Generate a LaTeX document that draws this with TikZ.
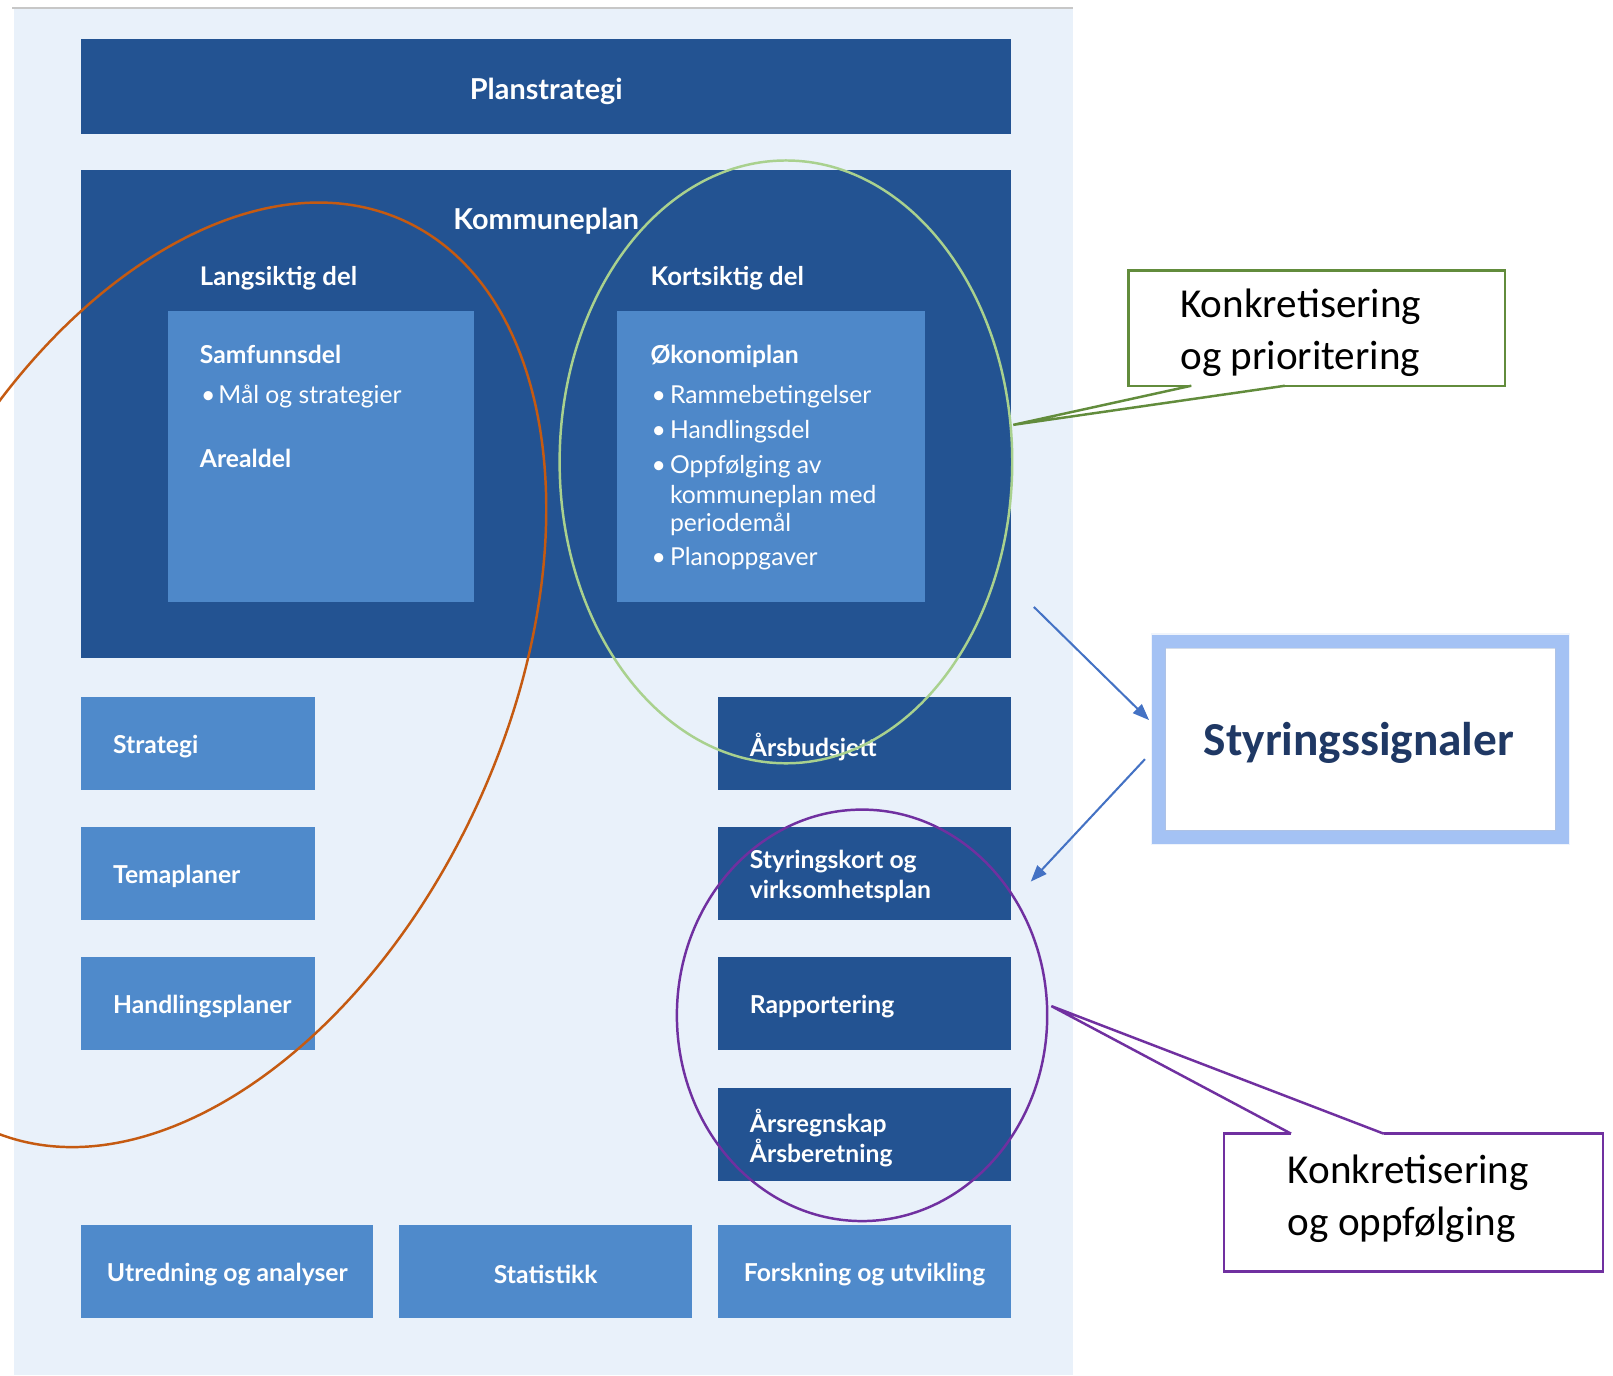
\documentclass[tikz,border=0pt]{standalone}
\usepackage{fontspec}
\setmainfont{Lato}
\newfontfamily\calib{Carlito}
\usetikzlibrary{arrows.meta}
\definecolor{dkblue}{RGB}{35,83,146}
\definecolor{ltblue}{RGB}{79,138,203}
\definecolor{innerblue}{RGB}{78,136,201}
\definecolor{panel}{RGB}{233,241,250}
\definecolor{orng}{RGB}{197,90,17}
\definecolor{lgreen}{RGB}{169,209,142}
\definecolor{purp}{RGB}{112,48,160}
\definecolor{cgreen}{RGB}{98,140,60}
\definecolor{arrblue}{RGB}{68,114,196}
\definecolor{glow}{RGB}{164,194,244}
\definecolor{navy}{RGB}{31,56,100}
\begin{document}
\begin{tikzpicture}[x=0.5pt,y=-0.5pt,
  darkbox/.style={rectangle, fill=dkblue, draw=none, inner sep=0pt},
  lightbox/.style={rectangle, fill=ltblue, draw=none, inner sep=0pt},
  innerbox/.style={rectangle, fill=innerblue, draw=none, inner sep=0pt},
  colbox/.style={minimum width=113.5pt, minimum height=45pt},
  rcolbox/.style={minimum width=142.5pt, minimum height=45pt},
  wtxt/.style={text=white, font=\bfseries\fontsize{12}{14.5}\selectfont, inner sep=0pt, align=left, yshift=-1.5pt},
  itxt/.style={text=white, font=\fontsize{12}{14}\selectfont, inner sep=0pt, anchor=mid west, yshift=-1pt},
  htxt/.style={text=white, font=\bfseries\fontsize{12}{14}\selectfont, inner sep=0pt, anchor=mid west, yshift=-1pt},
  ctxt/.style={text=black, font=\calib\fontsize{20}{25}\selectfont, inner sep=0pt, align=left, yshift=-1.2pt},
  sigarrow/.style={arrblue, line width=1pt, -{Triangle[length=8pt,width=6pt]}},
  ring/.style={line width=1.2pt}
]
\clip (0,0) rectangle (1568,1337);
\fill[white] (0,0) rectangle (1568,1337);
\fill[panel] (14,9) rectangle (1043,1337);
\draw[black!22, line width=1pt] (12,8) -- (1043,8);

% main boxes
\node[darkbox, minimum width=452pt, minimum height=46pt] (plan) at (531,84) {};
\node[wtxt, font=\bfseries\fontsize{14}{16}\selectfont] (planT) at (531,86) {Planstrategi};

\node[darkbox, minimum width=452pt, minimum height=237.5pt] (komm) at (531,402.5) {};
\node[wtxt, font=\bfseries\fontsize{14}{16}\selectfont] (kommT) at (531,212) {Kommuneplan};
\node[htxt, font=\bfseries\fontsize{12.5}{14}\selectfont] (lang) at (194,270) {Langsiktig del};
\node[htxt, font=\bfseries\fontsize{12.5}{14}\selectfont] (kort) at (632,270) {Kortsiktig del};

\node[innerbox, minimum width=149pt, minimum height=141.5pt] (inL) at (312,443.5) {};
\node[innerbox, minimum width=149.5pt, minimum height=141.5pt] (inR) at (749.5,443.5) {};

% left inner text
\node[htxt] (samf) at (194,346) {Samfunnsdel};
\node[itxt] (bl1) at (195,385) {•};
\node[itxt] (mal) at (212,385) {Mål og strategier};
\node[htxt] (areal) at (194,447) {Arealdel};

% right inner text
\node[htxt] (okon) at (632,346) {Økonomiplan};
\node[itxt] (br1) at (633,385) {•};
\node[itxt] (ramme) at (651,385) {Rammebetingelser};
\node[itxt] (br2) at (633,419) {•};
\node[itxt] (handd) at (651,419) {Handlingsdel};
\node[itxt] (br3) at (633,453) {•};
\node[itxt] (oppf) at (651,453) {Oppfølging av};
\node[itxt] (oppf2) at (651,482) {kommuneplan med};
\node[itxt] (oppf3) at (651,510) {periodemål};
\node[itxt] (br4) at (633,543) {•};
\node[itxt] (planopp) at (651,543) {Planoppgaver};

% left column
\node[lightbox, colbox] (strat) at (192.5,723) {};
\node[wtxt, anchor=west] (stratT) at ([xshift=15.5pt]strat.west) {Strategi};
\node[lightbox, colbox] (tema) at (192.5,849) {};
\node[wtxt, anchor=west] (temaT) at ([xshift=15.5pt]tema.west) {Temaplaner};
\node[lightbox, colbox] (hplan) at (192.5,975.5) {};
\node[wtxt, anchor=west] (hplanT) at ([xshift=15.5pt]hplan.west) {Handlingsplaner};

% right column
\node[darkbox, rcolbox] (buds) at (840.5,723) {};
\node[wtxt, anchor=west] (budsT) at ([xshift=15.5pt]buds.west) {Årsbudsjett};
\node[darkbox, rcolbox] (styk) at (840.5,849) {};
\node[wtxt, anchor=west] (stykT) at ([xshift=15.5pt]styk.west) {Styringskort og\\virksomhetsplan};
\node[darkbox, rcolbox] (rapp) at (840.5,975.5) {};
\node[wtxt, anchor=west] (rappT) at ([xshift=15.5pt]rapp.west) {Rapportering};
\node[darkbox, rcolbox] (regn) at (840.5,1103) {};
\node[wtxt, anchor=west] (regnT) at ([xshift=15.5pt]regn.west) {Årsregnskap\\Årsberetning};

% bottom row
\node[lightbox, minimum width=142pt, minimum height=45pt] (utr) at (221,1236) {};
\node[wtxt] (utrT) at (utr.center) {Utredning og analyser};
\node[lightbox, minimum width=142.5pt, minimum height=45pt] (stat) at (530.5,1236) {};
\node[wtxt] (statT) at (stat.center) {Statistikk};
\node[lightbox, minimum width=142.5pt, minimum height=45pt] (forsk) at (840.5,1236) {};
\node[wtxt] (forskT) at (forsk.center) {Forskning og utvikling};

% ellipses
\draw[orng, ring, rotate around={65.3:(190,656)}] (190,656) ellipse [x radius=485.8, y radius=301.6];
\draw[lgreen, ring] (764,449) ellipse [x radius=220, y radius=293];
\draw[purp, ring] (838,987) ellipse [x radius=180, y radius=200];

% Styringssignaler
\draw[glow!50, line width=8pt, opacity=0.35] (1126.5,623.5) rectangle (1518.5,813.5);
\node[draw=glow, line width=6.5pt, fill=white, minimum width=196pt, minimum height=95pt, inner sep=0pt] (styr) at (1322.5,718.5) {};
\draw[glow!80!black!60, line width=0.4pt, opacity=0.6] (1133,630) rectangle (1512,807);
\node[font=\calib\bfseries\fontsize{23}{26}\selectfont, text=navy, inner sep=0pt] (styrT) at (1321,722) {Styringssignaler};

% arrows
\coordinate (a1s) at (1005,590);
\coordinate (a1e) at (1117,700);
\coordinate (a2s) at (1113,738);
\coordinate (a2e) at (1002,857);
\draw[sigarrow] (a1s) -- (a1e);
\draw[sigarrow] (a2s) -- (a2e);

% green callout
\node[draw=cgreen, line width=1.2pt, fill=white, minimum width=183pt, minimum height=56pt, inner sep=0pt] (cp1) at (1280,319) {};
\coordinate (c1b1) at (1158,375);
\coordinate (c1b2) at (1249,375);
\coordinate (c1tip) at (985,413);
\fill[white] (1158,371) -- (1249,371) -- (c1b2) -- (c1tip) -- (c1b1) -- cycle;
\draw[cgreen, line width=1.2pt, line join=miter] (c1b1) -- (c1tip) -- (c1b2);
\node[ctxt] (cp1T) at (1264.5,321) {Konkretisering\\og prioritering};

% purple callout
\node[draw=purp, line width=1.2pt, fill=white, minimum width=184pt, minimum height=67pt, inner sep=0pt] (cp2) at (1374,1169) {};
\coordinate (c2b1) at (1255,1102);
\coordinate (c2b2) at (1345,1102);
\coordinate (c2tip) at (1022,978);
\fill[white] (1255,1106) -- (1345,1106) -- (c2b2) -- (c2tip) -- (c2b1) -- cycle;
\draw[purp, line width=1.2pt, line join=miter] (c2b1) -- (c2tip) -- (c2b2);
\node[ctxt] (cp2T) at (1369,1163) {Konkretisering\\og oppfølging};
\end{tikzpicture}
\end{document}
